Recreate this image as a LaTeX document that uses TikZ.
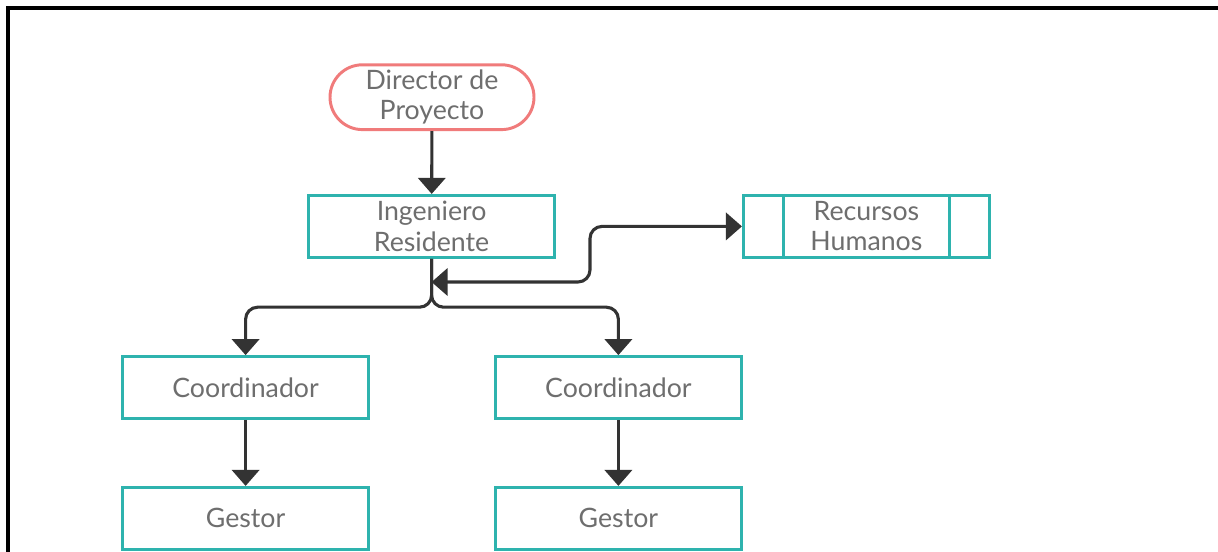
\documentclass[tikz,border=0pt]{standalone}
\usepackage{fontspec}
\setmainfont{Lato}
\usetikzlibrary{arrows.meta, positioning, calc}
\definecolor{cteal}{HTML}{2EB3AE}
\definecolor{cred}{HTML}{F07B7B}
\definecolor{cgrey}{HTML}{6E6E6E}
\definecolor{cdark}{HTML}{333333}
\tikzset{
  every picture/.style={font=\fontsize{19}{21.5}\selectfont, line width=2.1pt},
  box/.style={draw=#1, fill=white, align=center, text=cgrey, minimum width=6.15cm, minimum height=1.55cm, inner sep=2pt},
  box/.default=cteal,
  pill/.style={box=cred, minimum width=5.1cm, minimum height=1.62cm, rounded corners=0.81cm},
  arrow/.style={-{Triangle[length=0.4cm, width=0.68cm]}, draw=cdark, line width=2.2pt, rounded corners=0.3cm},
  twoway/.style={arrow, {Triangle[length=0.4cm, width=0.68cm]}-{Triangle[length=0.4cm, width=0.68cm]}},
}
\begin{document}
\begin{tikzpicture}
  \useasboundingbox (0,0) rectangle (30.45,-13.8);
  % frame
  \draw[line width=2.8pt] (0.2,-13.8) -- (0.2,-0.2) -- (30.45,-0.2);
  % nodes
  \node[pill] (dir) at (10.8,-2.43) {Director de\\Proyecto};
  \node[box] (ing) at (10.79,-5.66) {Ingeniero\\Residente};
  \node[box] (rh) at (21.66,-5.66) {Recursos\\Humanos};
  \draw[cteal] ([xshift=1.03cm]rh.north west) -- ([xshift=1.03cm]rh.south west);
  \draw[cteal] ([xshift=-1.03cm]rh.north east) -- ([xshift=-1.03cm]rh.south east);
  \node[box] (coordA) at (6.14,-9.69) {Coordinador};
  \node[box] (coordB) at (15.46,-9.69) {Coordinador};
  \node[box] (gestA) at (6.14,-12.96) {Gestor};
  \node[box] (gestB) at (15.46,-12.96) {Gestor};
  % connectors
  \coordinate (split) at (ing.south |- 0,-7.68);
  \coordinate (hub) at (ing.south |- 0,-7.05);
  \coordinate (turn) at (14.75,-6.4);
  \draw[arrow] (dir) -- (ing);
  \draw[arrow] (ing.south) -- (split) -| (coordA);
  \draw[arrow] (ing.south) -- (split) -| (coordB);
  \draw[twoway] (hub) -| (turn) |- (rh);
  \draw[arrow] (coordA) -- (gestA);
  \draw[arrow] (coordB) -- (gestB);
\end{tikzpicture}
\end{document}
